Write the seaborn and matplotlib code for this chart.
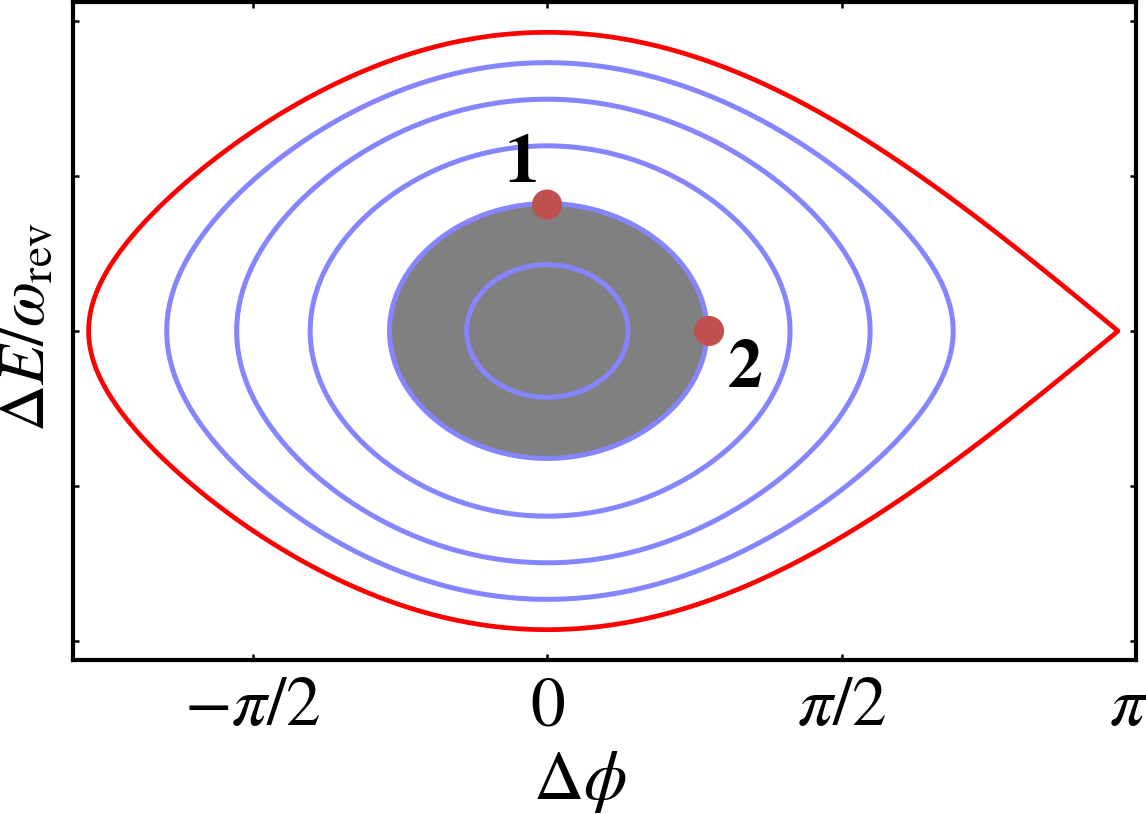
import numpy as np
import matplotlib
matplotlib.use("Agg")
import matplotlib.pyplot as plt
import matplotlib.transforms as mtransforms
import seaborn as sns
import pandas as pd

# ---- values ----
# phases are in units of pi/2, energies in tick units
orbit_right = [0.275, 0.543, 0.825, 1.097, 1.379]   # right crossing of each blue orbit at dE = 0
filled_orbit = 0.543                                 # the grey filled orbit
separatrix_cusp = 1.939                              # red cusp = unstable fixed point
dot_phase = [0.0, 0.55]
dot_energy = [0.815, 0.0]
dot_labels = [r"$\mathbf{1}$", r"$\mathbf{2}$"]
label_phase = [-0.09, 0.672]
label_energy = [1.07, -0.25]
xtick_pos = [-1, 0, 1, 2]
xtick_labels = [r"$-\pi/2$", r"$0$", r"$\pi/2$", r"$\pi$"]
ytick_pos = [-2, -1, 0, 1, 2]
x_left = -1.61
y_half = 2.12

half_pi = np.pi / 2
phi_s = (np.pi - separatrix_cusp * half_pi) / 2   # synchronous phase


def hamiltonian(dphi, de):
    # pendulum-like bucket Hamiltonian, centred on the synchronous phase
    pot = np.cos(phi_s) * (1 - np.cos(dphi)) + np.sin(phi_s) * (np.sin(dphi) - dphi)
    return 0.5 * de ** 2 + pot


def level_at(phase):
    return hamiltonian(phase * half_pi, 0.0)


sns.set_theme(style="ticks")
plt.rcParams["font.family"] = ["Liberation Serif", "DejaVu Serif"]
plt.rcParams["mathtext.fontset"] = "stix"
plt.rcParams["text.color"] = "black"
plt.rcParams["axes.labelcolor"] = "black"

fig = plt.figure(figsize=(11.46, 8.15), dpi=100)
ax = fig.add_axes([73 / 1146, 1 - 660 / 815, 1063 / 1146, 658 / 815])

xs = np.linspace(x_left * half_pi - 0.1, np.pi, 1600)
ys = np.linspace(-y_half, y_half, 1000)
X, Y = np.meshgrid(xs, ys)
H = hamiltonian(X, Y)

blue = "#8585ff"

# grey filled orbit
ax.contourf(X, Y, H, levels=[H.min() - 1, level_at(filled_orbit)],
            colors=["#808080"], zorder=1)

# blue orbits
levels = sorted(level_at(p) for p in orbit_right)
ax.contour(X, Y, H, levels=levels, colors=[blue], linewidths=3.6, zorder=2)

# separatrix, only up to the cusp
cusp_rad = separatrix_cusp * half_pi
xr = np.linspace(x_left * half_pi - 0.1, cusp_rad, 1600)
XR, YR = np.meshgrid(xr, ys)
ax.contour(XR, YR, hamiltonian(XR, YR), levels=[level_at(separatrix_cusp)],
           colors=["#ff0000"], linewidths=3.4, zorder=3)

dots = pd.DataFrame({"phase": np.array(dot_phase) * half_pi, "energy": dot_energy})
sns.scatterplot(data=dots, x="phase", y="energy", s=470, color="#c0504d",
                edgecolor="none", linewidth=0, zorder=5, ax=ax, legend=False)

for lx, ly, txt in zip(label_phase, label_energy, dot_labels):
    ax.text(lx * half_pi, ly, txt, fontsize=50, color="black",
            ha="center", va="center", zorder=6)

ax.set_xlim(x_left * half_pi, np.pi)
ax.set_ylim(-y_half, y_half)
ax.set_xticks(np.array(xtick_pos) * half_pi)
ax.set_xticklabels(xtick_labels, fontsize=50)
ax.set_yticks(ytick_pos)
ax.set_yticklabels([])
ax.tick_params(direction="in", length=4, width=1.8, top=True, right=True,
               pad=12, colors="black")

# pull the last label (pi) in a little so it stays inside the picture
last = ax.get_xticklabels()[-1]
last.set_transform(last.get_transform() +
                   mtransforms.ScaledTranslation(-7 / 100, 0, fig.dpi_scale_trans))

for sp in ax.spines.values():
    sp.set_linewidth(3)
    sp.set_color("black")

ax.set_xlabel(r"$\Delta\phi$", fontsize=50)
ax.xaxis.set_label_coords(0.477, -0.135)
ax.xaxis.label.set_va("top")
ax.set_ylabel(r"$\Delta E/\omega_{\rm rev}$", fontsize=47)
ax.yaxis.set_label_coords(-0.013, 0.505)

fig.savefig("out.png", dpi=100)
